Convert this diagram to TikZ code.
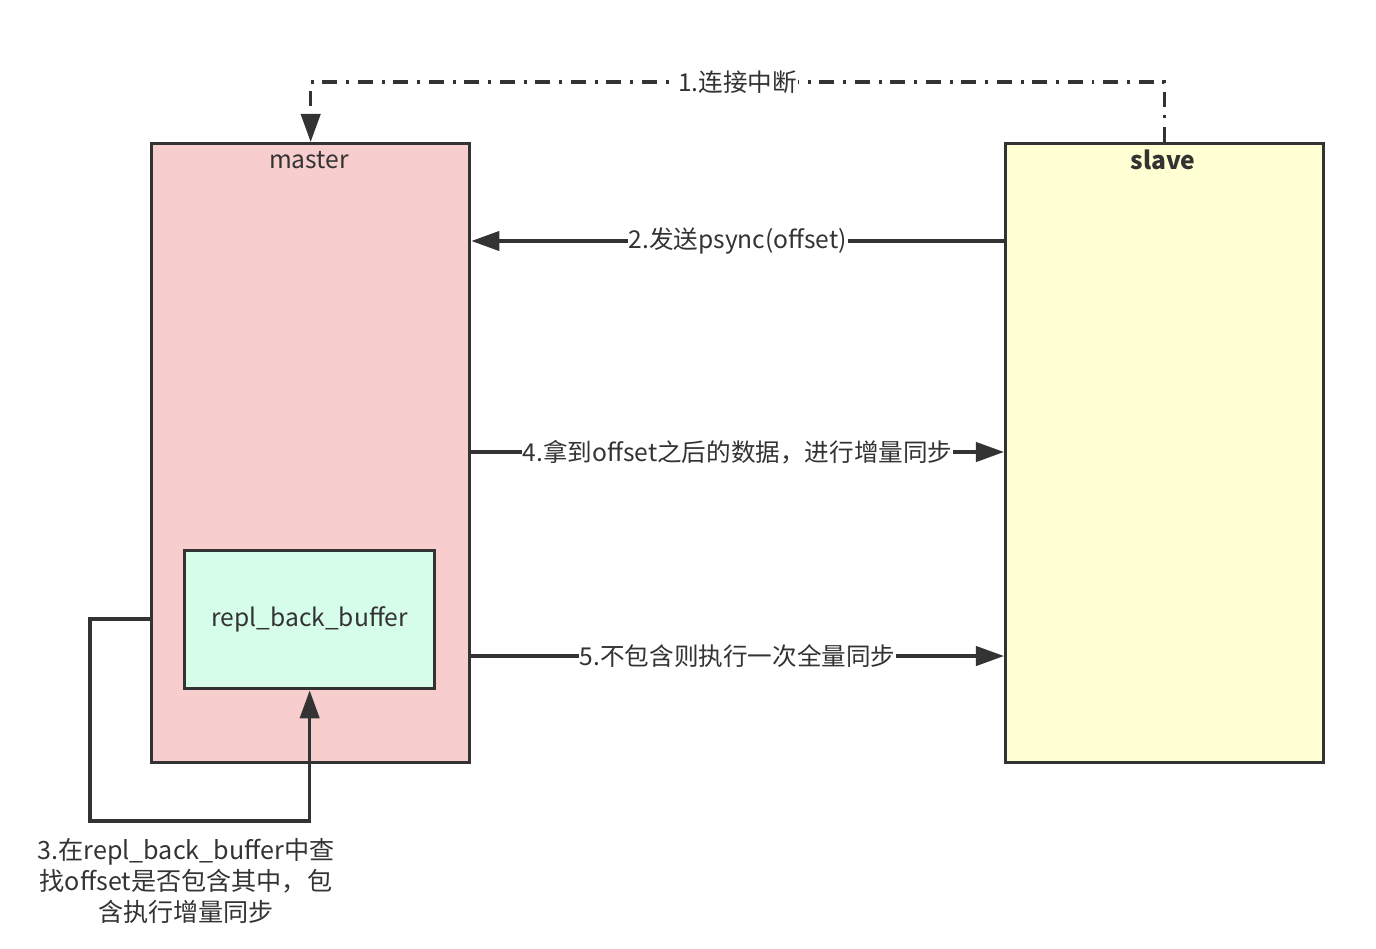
\documentclass[tikz,border=0pt]{standalone}
\usepackage{fontspec}
\setmainfont{Noto Sans CJK SC}
\usetikzlibrary{arrows.meta,positioning}
\definecolor{ink}{HTML}{333333}
\definecolor{masterfill}{HTML}{F8CDCD}
\definecolor{slavefill}{HTML}{FFFFD3}
\definecolor{bufferfill}{HTML}{D6FDE9}
\begin{document}
\begin{tikzpicture}[x=0.02cm,y=-0.02cm,
		box/.style={draw=ink, line width=1.9pt, anchor=north west, inner sep=0pt},
		arr/.style={draw=ink, line width=1.9pt, -{Triangle[length=16pt,width=11pt]}},
		lbl/.style={fill=white, text=ink, inner sep=0.5pt, font=\fontsize{14pt}{17pt}\selectfont}]
		\useasboundingbox (0,0) rectangle (1376,948);
		\node[box, fill=masterfill, minimum width=318*0.02cm, minimum height=619*0.02cm] (master) at (150,142) {};
		\node[box, fill=slavefill, minimum width=318*0.02cm, minimum height=619*0.02cm] (slave) at (1004,142) {};
		\node[box, fill=bufferfill, minimum width=250*0.02cm, minimum height=138*0.02cm, font=\fontsize{14pt}{17pt}\selectfont, text=ink] (buffer) at (183,549) {repl\_back\_buffer};
		\node[text=ink, font=\fontsize{14pt}{17pt}\selectfont] at (309,160) {master};
		\node[text=ink, font=\fontsize{14pt}{17pt}\selectfont\bfseries] at (1163,160) {slave};
		% levels of the connectors
		\coordinate (top) at (0,82);
		\coordinate (l2) at (0,241);
		\coordinate (l4) at (0,452);
		\coordinate (l5) at (0,656);
		\coordinate (l3) at (0,619);
		\coordinate (loop) at (90,821);
		\draw [arr, dash pattern=on 8.5pt off 5pt on 1.7pt off 5pt] (slave.north) -- (slave.north |- top) -- node[lbl] {1.连接中断} (master.north |- top) -- (master.north);
		\draw [arr] (slave.west |- l2) -- node[lbl] {2.发送psync(offset)} (master.east |- l2);
		\draw [arr] (master.east |- l4) -- node[lbl] {4.拿到offset之后的数据，进行增量同步} (slave.west |- l4);
		\draw [arr] (master.east |- l5) -- node[lbl] {5.不包含则执行一次全量同步} (slave.west |- l5);
		\draw [arr] (master.west |- l3) -| (loop) -| (buffer.south);
		\node[text=ink, align=center, font=\fontsize{14.3pt}{17.6pt}\selectfont] (note) at (186,881) {3.在repl\_back\_buffer中查\\找offset是否包含其中，包\\含执行增量同步};
	\end{tikzpicture}
\end{document}
